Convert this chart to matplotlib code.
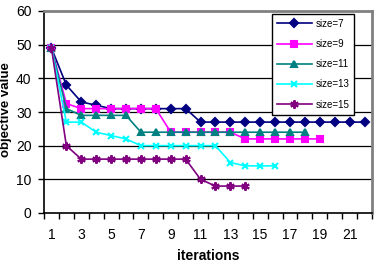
import matplotlib.pyplot as plt
import numpy as np

plt.rcParams['font.family'] = ['Liberation Sans', 'DejaVu Sans']

# values
size7 = [49, 38, 33, 32, 31, 31, 31, 31, 31, 31, 27, 27, 27, 27, 27, 27, 27, 27, 27, 27, 27, 27]
size9 = [49, 32.5, 31, 31, 31, 31, 31, 31, 24, 24, 24, 24, 24, 22, 22, 22, 22, 22, 22]
size11 = [49, 31, 29, 29, 29, 29, 24, 24, 24, 24, 24, 24, 24, 24, 24, 24, 24, 24]
size13 = [49, 27, 27, 24, 23, 22, 20, 20, 20, 20, 20, 20, 15, 14, 14, 14]
size15 = [49, 20, 16, 16, 16, 16, 16, 16, 16, 16, 10, 8, 8, 8]

series = [
    ('size=7', size7, '#000080', 'D', 4.0),
    ('size=9', size9, '#FF00FF', 's', 4.5),
    ('size=11', size11, '#008080', '^', 5.0),
    ('size=13', size13, '#00FFFF', 'x', 5.0),
    ('size=15', size15, '#800080', (6, 2, 0), 6.0),
]

fig = plt.figure(figsize=(3.84, 2.70), dpi=100)
ax = fig.add_axes([44 / 384, 57 / 270, 328 / 384, 202 / 270])

for label, vals, color, marker, ms in series:
    x = np.arange(1, len(vals) + 1)
    ax.plot(x, vals, color=color, marker=marker, markersize=ms, lw=1.2,
            mew=1.5, mfc=color, mec=color, label=label, clip_on=False)

ax.set_xlim(0.5, 22.5)
ax.set_ylim(0, 60)

ax.set_yticks(np.arange(0, 61, 10))
for y in range(10, 60, 10):
    ax.axhline(y, color='black', lw=0.9, zorder=0)

ax.set_xticks(np.arange(1, 22, 2))
ax.set_xticks(np.arange(0.5, 23, 1), minor=True)
ax.tick_params(axis='x', which='major', length=0, pad=11, labelsize=10)
ax.tick_params(axis='x', which='minor', length=4, width=1, direction='out')
ax.tick_params(axis='y', length=4, width=1, direction='out', pad=5, labelsize=10)

ax.spines['left'].set_color('black')
ax.spines['bottom'].set_color('black')
ax.spines['left'].set_linewidth(1.2)
ax.spines['bottom'].set_linewidth(1.2)
ax.spines['top'].set_color('#808080')
ax.spines['right'].set_color('#808080')
ax.spines['top'].set_linewidth(2)
ax.spines['right'].set_linewidth(2)

fig.text(208 / 384, 1 - 256 / 270, 'iterations', ha='center', va='center',
         fontsize=10, fontweight='bold')
fig.text(6 / 384, 1 - 110 / 270, 'objective value', ha='center', va='center',
         rotation=90, fontsize=9.5, fontweight='bold')

leg = ax.legend(loc='upper left', bbox_to_anchor=(272 / 384, 1 - 14 / 270),
                bbox_transform=fig.transFigure, fontsize=7, frameon=True,
                fancybox=False, edgecolor='black', framealpha=1,
                labelspacing=1.05, handlelength=3.6, handletextpad=0.4,
                borderpad=0.5, borderaxespad=0)
leg.get_frame().set_linewidth(1)

fig.savefig('out.png', dpi=100)
